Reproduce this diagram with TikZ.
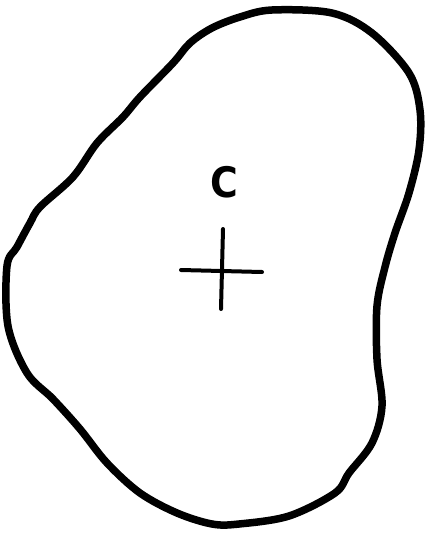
\documentclass[tikz,border=0pt]{standalone}
\usepackage{fontspec}
\setmainfont{DejaVu Sans}
\begin{document}
\begin{tikzpicture}[x=1pt,y=-1pt,
  outline/.style={line width=7.5pt,line join=round},
  crossline/.style={line width=4pt,line cap=round}]
\useasboundingbox (0,0) rectangle (424,533);
\fill[white] (0,0) rectangle (424,533);
\draw[outline] plot[smooth cycle,tension=0.55] coordinates {
 (272,10) (332,13) (372,33) (409,73) (420,110) (419,150) (409,193)
 (395,233) (385,267) (377,306) (377,359) (382,406) (372,443) (349,473)
 (335,493) (289,516) (239,524) (212,524) (177,513) (140,493) (107,463)
 (80,429) (53,399) (27,373) (8,326) (7,266) (17,247) (30,223) (40,207)
 (73,177) (97,143) (123,117) (140,97) (173,63) (190,43) (212,28) (240,17)};
\node[font=\fontsize{42}{42}\selectfont\bfseries,inner sep=0pt,xscale=0.9] (c) at (224,182) {C};
\coordinate (ctop) at (223,229);
\coordinate (cbot) at (221,309);
\coordinate (cleft) at (181,270);
\coordinate (cright) at (262,272);
\draw[crossline] (ctop) -- (cbot);
\draw[crossline] (cleft) -- (cright);
\end{tikzpicture}
\end{document}
